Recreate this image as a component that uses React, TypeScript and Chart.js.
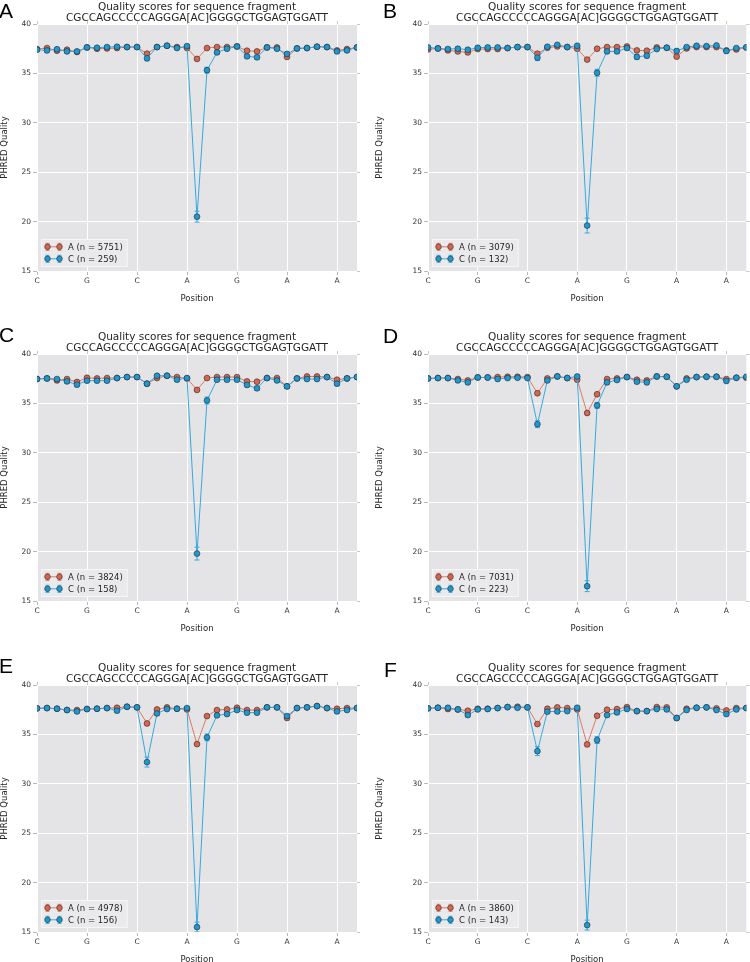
import React, { useEffect, useRef } from "react";
import { Chart, registerables } from "chart.js";

Chart.register(...registerables);

// ---------- data ----------
const POSITIONS = [0, 1, 2, 3, 4, 5, 6, 7, 8, 9, 10, 11, 12, 13, 14, 15, 16, 17, 18, 19, 20, 21, 22, 23, 24, 25, 26, 27, 28, 29, 30, 31, 32];
const X_TICK_POSITIONS = [0, 5, 10, 15, 20, 25, 30];
const X_TICK_LABELS = ["C", "G", "C", "A", "G", "A", "A"];
const Y_TICKS = [15, 20, 25, 30, 35, 40];
const TITLE_LINES = ["Quality scores for sequence fragment", "CGCCAGCCCCCAGGGA[AC]GGGGCTGGAGTGGATT"];

// Panel A
const A_MEAN_A = [37.47, 37.57, 37.3, 37.4, 37.17, 37.63, 37.5, 37.53, 37.57, 37.67, 37.67, 37.0, 37.67, 37.8, 37.67, 37.57, 36.47, 37.57, 37.67, 37.67, 37.73, 37.3, 37.23, 37.63, 37.63, 36.67, 37.53, 37.57, 37.7, 37.67, 37.33, 37.47, 37.63];
const A_MEAN_C = [37.4, 37.33, 37.45, 37.23, 37.23, 37.63, 37.6, 37.67, 37.7, 37.67, 37.67, 36.53, 37.67, 37.8, 37.57, 37.77, 20.5, 35.33, 37.13, 37.5, 37.73, 36.73, 36.63, 37.63, 37.5, 36.97, 37.53, 37.57, 37.7, 37.67, 37.23, 37.33, 37.63];
const A_ERR_A = [0.03, 0.03, 0.03, 0.03, 0.03, 0.03, 0.03, 0.03, 0.03, 0.03, 0.03, 0.04, 0.03, 0.03, 0.03, 0.03, 0.06, 0.03, 0.03, 0.03, 0.03, 0.03, 0.03, 0.03, 0.03, 0.04, 0.03, 0.03, 0.03, 0.03, 0.03, 0.03, 0.03];
const A_ERR_C = [0.15, 0.15, 0.15, 0.15, 0.15, 0.12, 0.12, 0.12, 0.12, 0.12, 0.12, 0.25, 0.12, 0.1, 0.12, 0.1, 0.55, 0.3, 0.15, 0.12, 0.12, 0.2, 0.2, 0.12, 0.12, 0.18, 0.12, 0.12, 0.1, 0.12, 0.15, 0.15, 0.12];
const A_N = [5751, 259];

// Panel B
const B_MEAN_A = [37.43, 37.53, 37.33, 37.23, 37.13, 37.47, 37.47, 37.47, 37.57, 37.67, 37.67, 37.0, 37.6, 37.73, 37.67, 37.5, 36.4, 37.5, 37.67, 37.67, 37.73, 37.33, 37.3, 37.63, 37.6, 36.7, 37.53, 37.67, 37.67, 37.67, 37.33, 37.43, 37.63];
const B_MEAN_C = [37.63, 37.53, 37.47, 37.5, 37.4, 37.6, 37.63, 37.63, 37.57, 37.67, 37.67, 36.6, 37.7, 37.9, 37.67, 37.8, 19.6, 35.07, 37.23, 37.23, 37.57, 36.67, 36.8, 37.47, 37.6, 37.27, 37.67, 37.8, 37.77, 37.83, 37.27, 37.57, 37.63];
const B_ERR_A = [0.04, 0.04, 0.04, 0.04, 0.04, 0.04, 0.04, 0.04, 0.04, 0.04, 0.04, 0.05, 0.04, 0.04, 0.04, 0.04, 0.08, 0.04, 0.04, 0.04, 0.04, 0.04, 0.04, 0.04, 0.04, 0.05, 0.04, 0.04, 0.04, 0.04, 0.04, 0.04, 0.04];
const B_ERR_C = [0.18, 0.18, 0.18, 0.18, 0.18, 0.15, 0.15, 0.15, 0.15, 0.15, 0.15, 0.3, 0.15, 0.12, 0.15, 0.12, 0.75, 0.35, 0.18, 0.18, 0.15, 0.25, 0.25, 0.15, 0.15, 0.2, 0.15, 0.12, 0.12, 0.12, 0.18, 0.15, 0.15];
const B_N = [3079, 132];

// Panel C
const C_MEAN_A = [37.47, 37.53, 37.33, 37.47, 37.17, 37.6, 37.53, 37.57, 37.57, 37.67, 37.67, 37.0, 37.57, 37.8, 37.67, 37.53, 36.37, 37.57, 37.67, 37.67, 37.67, 37.23, 37.2, 37.57, 37.57, 36.73, 37.53, 37.73, 37.73, 37.67, 37.4, 37.53, 37.67];
const C_MEAN_C = [37.47, 37.53, 37.47, 37.23, 36.9, 37.3, 37.3, 37.3, 37.57, 37.67, 37.67, 37.0, 37.8, 37.8, 37.4, 37.57, 19.8, 35.3, 37.4, 37.4, 37.4, 36.87, 36.53, 37.57, 37.33, 36.73, 37.53, 37.47, 37.47, 37.67, 37.0, 37.53, 37.67];
const C_ERR_A = [0.04, 0.04, 0.04, 0.04, 0.04, 0.04, 0.04, 0.04, 0.04, 0.04, 0.04, 0.05, 0.04, 0.04, 0.04, 0.04, 0.07, 0.04, 0.04, 0.04, 0.04, 0.04, 0.04, 0.04, 0.04, 0.05, 0.04, 0.04, 0.04, 0.04, 0.04, 0.04, 0.04];
const C_ERR_C = [0.16, 0.16, 0.16, 0.18, 0.2, 0.16, 0.16, 0.16, 0.14, 0.14, 0.14, 0.2, 0.12, 0.12, 0.16, 0.14, 0.65, 0.35, 0.16, 0.16, 0.16, 0.2, 0.22, 0.14, 0.16, 0.2, 0.14, 0.14, 0.14, 0.14, 0.2, 0.14, 0.14];
const C_N = [3824, 158];

// Panel D
const D_MEAN_A = [37.53, 37.57, 37.57, 37.47, 37.33, 37.63, 37.63, 37.67, 37.7, 37.7, 37.67, 36.03, 37.53, 37.73, 37.57, 37.4, 34.03, 35.93, 37.47, 37.53, 37.67, 37.4, 37.33, 37.73, 37.7, 36.73, 37.53, 37.67, 37.7, 37.7, 37.47, 37.6, 37.6];
const D_MEAN_C = [37.53, 37.57, 37.57, 37.33, 37.13, 37.63, 37.63, 37.47, 37.57, 37.6, 37.57, 32.9, 37.33, 37.73, 37.57, 37.73, 16.5, 34.8, 37.13, 37.37, 37.67, 37.2, 37.13, 37.73, 37.7, 36.73, 37.4, 37.67, 37.7, 37.7, 37.27, 37.6, 37.7];
const D_ERR_A = [0.03, 0.03, 0.03, 0.03, 0.03, 0.03, 0.03, 0.03, 0.03, 0.03, 0.03, 0.06, 0.03, 0.03, 0.03, 0.03, 0.1, 0.06, 0.03, 0.03, 0.03, 0.03, 0.03, 0.03, 0.03, 0.04, 0.03, 0.03, 0.03, 0.03, 0.03, 0.03, 0.03];
const D_ERR_C = [0.13, 0.13, 0.13, 0.14, 0.15, 0.12, 0.12, 0.13, 0.12, 0.12, 0.12, 0.35, 0.13, 0.11, 0.12, 0.11, 0.55, 0.3, 0.14, 0.13, 0.12, 0.14, 0.14, 0.11, 0.11, 0.16, 0.13, 0.12, 0.11, 0.11, 0.14, 0.12, 0.12];
const D_N = [7031, 223];

// Panel E
const E_MEAN_A = [37.64, 37.67, 37.6, 37.47, 37.47, 37.57, 37.6, 37.67, 37.7, 37.8, 37.74, 36.11, 37.53, 37.74, 37.6, 37.53, 34.02, 36.86, 37.47, 37.53, 37.7, 37.47, 37.47, 37.74, 37.74, 36.66, 37.67, 37.74, 37.87, 37.67, 37.6, 37.67, 37.67];
const E_MEAN_C = [37.64, 37.67, 37.6, 37.47, 37.33, 37.57, 37.6, 37.67, 37.4, 37.8, 37.74, 32.2, 37.13, 37.57, 37.6, 37.67, 15.5, 34.7, 36.93, 37.06, 37.47, 37.2, 37.2, 37.74, 37.74, 36.86, 37.67, 37.74, 37.87, 37.67, 37.33, 37.47, 37.67];
const E_ERR_A = [0.04, 0.04, 0.04, 0.04, 0.04, 0.04, 0.04, 0.04, 0.04, 0.04, 0.04, 0.07, 0.04, 0.04, 0.04, 0.04, 0.12, 0.07, 0.04, 0.04, 0.04, 0.04, 0.04, 0.04, 0.04, 0.05, 0.04, 0.04, 0.04, 0.04, 0.04, 0.04, 0.04];
const E_ERR_C = [0.15, 0.15, 0.15, 0.16, 0.17, 0.15, 0.15, 0.14, 0.16, 0.13, 0.13, 0.5, 0.16, 0.14, 0.14, 0.14, 0.5, 0.35, 0.17, 0.16, 0.14, 0.16, 0.16, 0.13, 0.13, 0.18, 0.14, 0.13, 0.12, 0.14, 0.16, 0.15, 0.14];
const E_N = [4978, 156];

// Panel F
const F_MEAN_A = [37.64, 37.7, 37.57, 37.53, 37.4, 37.6, 37.6, 37.67, 37.77, 37.8, 37.74, 36.05, 37.6, 37.74, 37.67, 37.53, 33.99, 36.89, 37.5, 37.57, 37.77, 37.36, 37.36, 37.77, 37.74, 36.66, 37.6, 37.7, 37.74, 37.64, 37.43, 37.67, 37.67];
const F_MEAN_C = [37.64, 37.7, 37.7, 37.53, 36.96, 37.53, 37.57, 37.67, 37.77, 37.7, 37.74, 33.31, 37.3, 37.33, 37.36, 37.7, 15.7, 34.43, 36.96, 37.23, 37.57, 37.36, 37.36, 37.57, 37.53, 36.66, 37.47, 37.7, 37.74, 37.47, 37.06, 37.53, 37.67];
const F_ERR_A = [0.04, 0.04, 0.04, 0.04, 0.04, 0.04, 0.04, 0.04, 0.04, 0.04, 0.04, 0.07, 0.04, 0.04, 0.04, 0.04, 0.12, 0.07, 0.04, 0.04, 0.04, 0.04, 0.04, 0.04, 0.04, 0.05, 0.04, 0.04, 0.04, 0.04, 0.04, 0.04, 0.04];
const F_ERR_C = [0.15, 0.15, 0.15, 0.15, 0.18, 0.15, 0.15, 0.14, 0.13, 0.13, 0.13, 0.45, 0.16, 0.16, 0.16, 0.13, 0.5, 0.35, 0.17, 0.16, 0.14, 0.16, 0.16, 0.14, 0.14, 0.18, 0.15, 0.13, 0.13, 0.15, 0.18, 0.15, 0.14];
const F_N = [3860, 143];

// ---------- styling ----------
const RED = "#D9654E";
const RED_LINE = "#DF7862";
const BLUE = "#1C98D3";
const BLUE_LINE = "#33AADF";
const PLOT_BG = "#E4E4E7";
const FONT = '"DejaVu Sans", sans-serif';

type PanelDef = {
  letter: string;
  meanA: number[];
  meanC: number[];
  errA: number[];
  errC: number[];
  n: number[];
  left: number;
  top: number;
  letterLeft: number;
  letterTop: number;
  axisWidth: number;
  padRight: number;
};

const PANELS: PanelDef[] = [
  { letter: "A", meanA: A_MEAN_A, meanC: A_MEAN_C, errA: A_ERR_A, errC: A_ERR_C, n: A_N, left: 0, top: 0, letterLeft: -1, letterTop: 0, axisWidth: 37, padRight: 18 },
  { letter: "B", meanA: B_MEAN_A, meanC: B_MEAN_C, errA: B_ERR_A, errC: B_ERR_C, n: B_N, left: 375, top: 0, letterLeft: 383, letterTop: 0, axisWidth: 53, padRight: 2 },
  { letter: "C", meanA: C_MEAN_A, meanC: C_MEAN_C, errA: C_ERR_A, errC: C_ERR_C, n: C_N, left: 0, top: 330, letterLeft: -1, letterTop: 324, axisWidth: 37, padRight: 18 },
  { letter: "D", meanA: D_MEAN_A, meanC: D_MEAN_C, errA: D_ERR_A, errC: D_ERR_C, n: D_N, left: 375, top: 330, letterLeft: 383, letterTop: 325, axisWidth: 53, padRight: 2 },
  { letter: "E", meanA: E_MEAN_A, meanC: E_MEAN_C, errA: E_ERR_A, errC: E_ERR_C, n: E_N, left: 0, top: 661, letterLeft: -1, letterTop: 655, axisWidth: 37, padRight: 18 },
  { letter: "F", meanA: F_MEAN_A, meanC: F_MEAN_C, errA: F_ERR_A, errC: F_ERR_C, n: F_N, left: 375, top: 661, letterLeft: 384, letterTop: 659, axisWidth: 53, padRight: 2 },
];

const CANVAS_W = 375;
const CANVAS_H = 306;

// ---------- plugins ----------
const bgPlugin = {
  id: "plotBg",
  beforeDraw(chart: any) {
    const { ctx, chartArea } = chart;
    ctx.save();
    ctx.fillStyle = PLOT_BG;
    ctx.fillRect(chartArea.left, chartArea.top, chartArea.right - chartArea.left, chartArea.bottom - chartArea.top);
    ctx.restore();
  },
};

const errorBarPlugin = {
  id: "errorBars",
  beforeDatasetsDraw(chart: any) {
    const { ctx, chartArea } = chart;
    const xs = chart.scales.x;
    const ys = chart.scales.y;
    ctx.save();
    ctx.beginPath();
    ctx.rect(chartArea.left, chartArea.top, chartArea.right - chartArea.left, chartArea.bottom - chartArea.top);
    ctx.clip();
    chart.data.datasets.forEach((ds: any) => {
      ctx.strokeStyle = ds.borderColor;
      ctx.lineWidth = 1;
      ds.data.forEach((pt: any, i: number) => {
        const e = ds.errors[i];
        const px = xs.getPixelForValue(pt.x);
        const y1 = ys.getPixelForValue(pt.y + e);
        const y2 = ys.getPixelForValue(pt.y - e);
        ctx.beginPath();
        ctx.moveTo(px, y1);
        ctx.lineTo(px, y2);
        ctx.moveTo(px - 2.5, y1);
        ctx.lineTo(px + 2.5, y1);
        ctx.moveTo(px - 2.5, y2);
        ctx.lineTo(px + 2.5, y2);
        ctx.stroke();
      });
    });
    ctx.restore();
  },
};

const legendPlugin = {
  id: "errLegend",
  afterDraw(chart: any, _args: any, opts: any) {
    const { ctx, chartArea } = chart;
    const items = opts.items || [];
    ctx.save();
    ctx.font = `8.5px ${FONT}`;
    let maxW = 0;
    items.forEach((it: any) => {
      maxW = Math.max(maxW, ctx.measureText(it.label).width);
    });
    const boxX = chartArea.left + 4;
    const boxH = 28;
    const boxY = chartArea.bottom - 4 - boxH;
    const boxW = 27 + maxW + 5;
    ctx.fillStyle = "#EAEAEC";
    ctx.strokeStyle = "#F6F6F6";
    ctx.lineWidth = 1;
    ctx.fillRect(boxX, boxY, boxW, boxH);
    ctx.strokeRect(boxX + 0.5, boxY + 0.5, boxW - 1, boxH - 1);
    items.forEach((it: any, k: number) => {
      const cy = boxY + 7.8 + k * 12;
      const x1 = boxX + 6.5;
      const x2 = boxX + 18.5;
      ctx.strokeStyle = it.line;
      ctx.lineWidth = 1;
      ctx.beginPath();
      ctx.moveTo(x1, cy);
      ctx.lineTo(x2, cy);
      [x1, x2].forEach((xx) => {
        ctx.moveTo(xx, cy - 3.5);
        ctx.lineTo(xx, cy + 3.5);
        ctx.moveTo(xx - 2, cy - 3.5);
        ctx.lineTo(xx + 2, cy - 3.5);
        ctx.moveTo(xx - 2, cy + 3.5);
        ctx.lineTo(xx + 2, cy + 3.5);
      });
      ctx.stroke();
      [x1, x2].forEach((xx) => {
        ctx.beginPath();
        ctx.arc(xx, cy, 2.8, 0, Math.PI * 2);
        ctx.fillStyle = it.color;
        ctx.fill();
        ctx.strokeStyle = "rgba(40,40,40,0.75)";
        ctx.lineWidth = 0.8;
        ctx.stroke();
      });
      ctx.fillStyle = "#262626";
      ctx.textBaseline = "middle";
      ctx.textAlign = "left";
      ctx.fillText(it.label, boxX + 27, cy + 0.5);
    });
    ctx.restore();
  },
};

function makeConfig(p: PanelDef): any {
  const labelA = `A (n = ${p.n[0]})`;
  const labelC = `C (n = ${p.n[1]})`;
  const pointStyle = {
    pointRadius: 2.9,
    pointHoverRadius: 2.9,
    pointBorderWidth: 0.8,
    pointBorderColor: "rgba(40,40,40,0.75)",
    borderWidth: 1,
    tension: 0,
  };
  return {
    type: "line",
    data: {
      datasets: [
        {
          label: labelA,
          data: p.meanA.map((v, i) => ({ x: POSITIONS[i], y: v })),
          errors: p.errA,
          borderColor: RED_LINE,
          backgroundColor: RED,
          pointBackgroundColor: RED,
          order: 2,
          ...pointStyle,
        },
        {
          label: labelC,
          data: p.meanC.map((v, i) => ({ x: POSITIONS[i], y: v })),
          errors: p.errC,
          borderColor: BLUE_LINE,
          backgroundColor: BLUE,
          pointBackgroundColor: BLUE,
          order: 1,
          ...pointStyle,
        },
      ],
    },
    options: {
      animation: false,
      responsive: false,
      devicePixelRatio: 1,
      events: [],
      layout: { padding: { left: 0, right: p.padRight, top: 0, bottom: 0 } },
      plugins: {
        legend: { display: false },
        tooltip: { enabled: false },
        title: {
          display: true,
          fullSize: false,
          text: TITLE_LINES,
          color: "#262626",
          font: { family: FONT, size: 10.5, lineHeight: 1.04, weight: "normal" },
          padding: { top: 2, bottom: 0.2 },
        },
        errLegend: {
          items: [
            { label: labelA, color: RED, line: RED_LINE },
            { label: labelC, color: BLUE, line: BLUE_LINE },
          ],
        },
      },
      scales: {
        x: {
          type: "linear",
          position: "bottom",
          min: 0,
          max: 32,
          afterBuildTicks: (s: any) => {
            s.ticks = X_TICK_POSITIONS.map((v) => ({ value: v }));
          },
          afterFit: (s: any) => {
            s.height = 35;
          },
          ticks: {
            autoSkip: false,
            maxRotation: 0,
            padding: 2,
            color: "#333333",
            font: { family: FONT, size: 7.5 },
            callback: (v: number) => X_TICK_LABELS[X_TICK_POSITIONS.indexOf(v)] ?? "",
          },
          grid: { color: "#FFFFFF", lineWidth: 1, tickColor: "#B8B8B8", tickLength: 4 },
          border: { display: false },
          title: {
            display: true,
            text: "Position",
            color: "#262626",
            font: { family: FONT, size: 8.5 },
            padding: { top: 0, bottom: 2 },
          },
        },
        x2: {
          type: "linear",
          position: "top",
          min: 0,
          max: 32,
          afterBuildTicks: (s: any) => {
            s.ticks = X_TICK_POSITIONS.map((v) => ({ value: v }));
          },
          afterFit: (s: any) => {
            s.height = 0;
          },
          ticks: { display: false },
          grid: { drawOnChartArea: false, tickColor: "#C8C8C8", tickLength: 3 },
          border: { display: false },
        },
        y: {
          type: "linear",
          position: "left",
          min: 15,
          max: 40,
          afterBuildTicks: (s: any) => {
            s.ticks = Y_TICKS.map((v) => ({ value: v }));
          },
          afterFit: (s: any) => {
            s.width = p.axisWidth;
          },
          ticks: {
            padding: 2,
            color: "#333333",
            font: { family: FONT, size: 7.5 },
          },
          grid: { color: "#FFFFFF", lineWidth: 1, tickColor: "#B8B8B8", tickLength: 4 },
          border: { display: false },
          title: {
            display: true,
            text: "PHRED Quality",
            color: "#262626",
            font: { family: FONT, size: 8.5 },
            padding: { top: 0, bottom: 0 },
          },
        },
        y2: {
          type: "linear",
          position: "right",
          min: 15,
          max: 40,
          afterBuildTicks: (s: any) => {
            s.ticks = Y_TICKS.map((v) => ({ value: v }));
          },
          afterFit: (s: any) => {
            s.width = 0;
          },
          ticks: { display: false },
          grid: { drawOnChartArea: false, tickColor: "#C8C8C8", tickLength: 3 },
          border: { display: false },
        },
      },
    },
    plugins: [bgPlugin, errorBarPlugin, legendPlugin],
  };
}

function Panel({ p }: { p: PanelDef }) {
  const ref = useRef<HTMLCanvasElement | null>(null);
  useEffect(() => {
    if (!ref.current) return;
    const chart = new Chart(ref.current, makeConfig(p));
    return () => chart.destroy();
  }, [p]);
  return (
    <>
      <canvas
        ref={ref}
        width={CANVAS_W}
        height={CANVAS_H}
        style={{ position: "absolute", left: p.left, top: p.top, width: CANVAS_W, height: CANVAS_H }}
      />
      <div
        style={{
          position: "absolute",
          left: p.letterLeft,
          top: p.letterTop,
          fontFamily: '"Liberation Sans", Arial, sans-serif',
          fontSize: 21,
          lineHeight: "21px",
          color: "#000",
        }}
      >
        {p.letter}
      </div>
    </>
  );
}

export default function App() {
  return (
    <div
      style={{
        position: "fixed",
        left: 0,
        top: 0,
        width: 750,
        height: 962,
        overflow: "hidden",
        background: "#FFFFFF",
      }}
    >
      {PANELS.map((p) => (
        <Panel key={p.letter} p={p} />
      ))}
    </div>
  );
}
